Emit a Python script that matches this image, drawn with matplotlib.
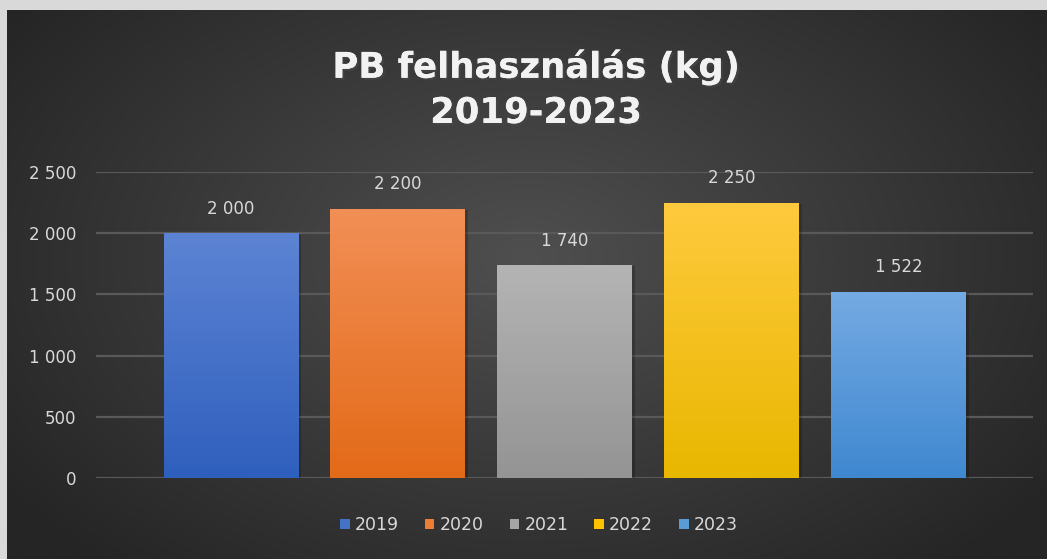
import numpy as np
import matplotlib.pyplot as plt
import matplotlib.patheffects as pe
from matplotlib.patches import Patch

# data
years = ['2019', '2020', '2021', '2022', '2023']
usage = [2000, 2200, 1740, 2250, 1522]
top_cols = ['#5d84d4', '#f28f56', '#b4b4b4', '#ffca3e', '#75aae3']
bot_cols = ['#2f5fbd', '#e36a18', '#949494', '#e8b700', '#3f88d0']
mid_cols = ['#4472c4', '#ed7d31', '#a5a5a5', '#ffc000', '#5b9bd5']
yticks = [0, 500, 1000, 1500, 2000, 2500]
title_lines = ['PB felhasználás (kg)', '2019-2023']

W, H = 1047, 559
fig = plt.figure(figsize=(W / 100, H / 100), dpi=100, facecolor='#d9d9d9')

# dark panel with radial gradient
bg = fig.add_axes([7 / W, 0, (W - 7) / W, (H - 10) / H])
bg.set_axis_off()
yy, xx = np.mgrid[0:1:300j, 0:1:600j]
r = np.sqrt(((xx - 0.5) / 0.62) ** 2 + ((yy - 0.55) / 0.75) ** 2)
r = np.clip(r, 0, 1)
c0 = np.array([0x4f, 0x4f, 0x4f]) / 255
c1 = np.array([0x25, 0x25, 0x25]) / 255
img = c0[None, None, :] * (1 - r[..., None]) + c1[None, None, :] * r[..., None]
bg.imshow(img, aspect='auto', extent=[0, 1, 0, 1], origin='lower')
bg.set_xlim(0, 1)
bg.set_ylim(0, 1)

# main axes
x0, x1 = 96, 1033
ytop, ybot = 172, 478
ax = fig.add_axes([x0 / W, (H - ybot) / H, (x1 - x0) / W, (ybot - ytop) / H])
ax.patch.set_alpha(0)
step = 167.0

ax.set_yticks(yticks)
ax.set_yticklabels([f'{v:,}'.replace(',', ' ') for v in yticks])
ax.tick_params(axis='y', length=0, pad=14, labelsize=12, labelcolor='#d9d9d9')
ax.set_xticks([])
for s in ax.spines.values():
    s.set_visible(False)
ax.grid(axis='y', color='#595959', linewidth=1.6)
ax.set_axisbelow(True)

bw = 135 / step
grad = np.linspace(0, 1, 256)[:, None]
for i, (v, tc, bc) in enumerate(zip(usage, top_cols, bot_cols)):
    # soft shadow
    ax.bar(i + 0.012, v, width=bw, bottom=-12, color='black', alpha=0.2, zorder=2)
    bar = ax.bar(i, v, width=bw, color=mid_cols[i], zorder=3)[0]
    t = np.array(plt.matplotlib.colors.to_rgb(tc))
    b = np.array(plt.matplotlib.colors.to_rgb(bc))
    g = b[None, None, :] * (1 - grad[..., None]) + t[None, None, :] * grad[..., None]
    im = ax.imshow(g, aspect='auto', origin='lower',
                   extent=[i - bw / 2, i + bw / 2, 0, v], zorder=4)
    im.set_clip_path(bar)
    ax.annotate(f'{v:,}'.replace(',', ' '), (i, v), xytext=(0, 11),
                textcoords='offset points', ha='center', va='bottom',
                fontsize=12, color='#d9d9d9', zorder=5)

ax.set_xlim((x0 - 231) / step, (x1 - 231) / step)
ax.set_ylim(0, 2500)

# title, two lines placed separately
shadow = [pe.withSimplePatchShadow(offset=(1.5, -1.5), alpha=0.6), pe.Normal()]
for line, yp in zip(title_lines, [67, 113]):
    fig.text(536 / W, 1 - yp / H, line, ha='center', va='center',
             fontsize=25.5, fontweight='bold', family='DejaVu Sans', color='#f2f2f2',
             path_effects=shadow)

handles = [Patch(facecolor=c, edgecolor='none') for c in mid_cols]
leg = fig.legend(handles, years, loc='center', bbox_to_anchor=(539 / W, 1 - 525 / H),
                 ncol=5, frameon=False, fontsize=12.5, handlelength=0.55, handleheight=0.55,
                 handletextpad=0.3, columnspacing=1.5)
for t in leg.get_texts():
    t.set_color('#d9d9d9')

fig.savefig('out.png', dpi=100, facecolor=fig.get_facecolor())
